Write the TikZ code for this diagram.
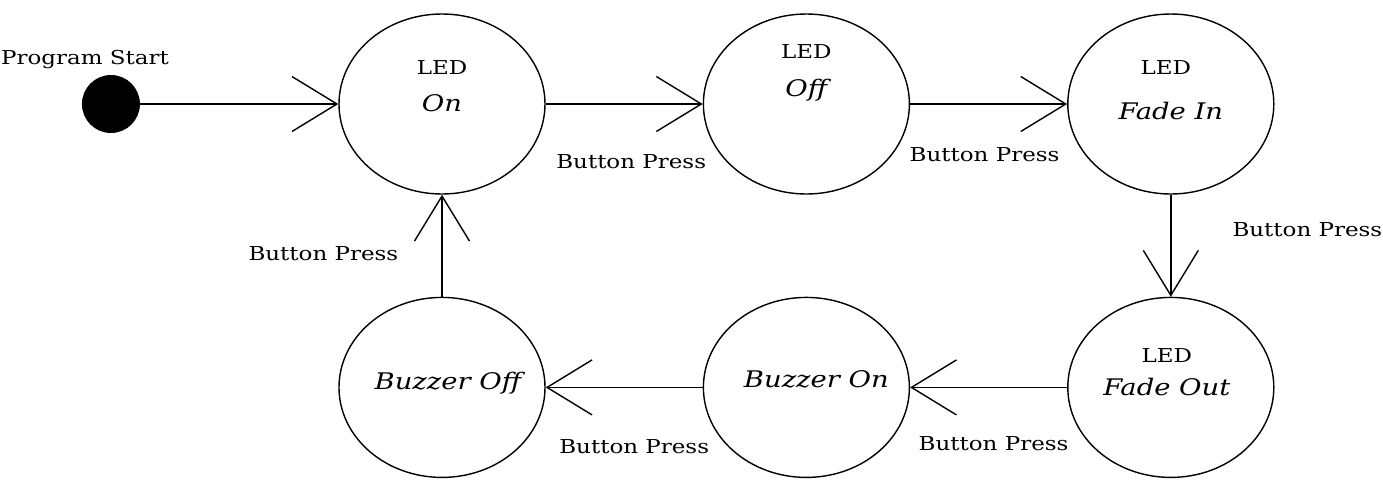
\documentclass[tikz,border=0pt]{standalone}
\usepackage{fontspec}
\setmainfont{DejaVu Serif}[FakeStretch=1.2]
\usepackage{tikz}
\usetikzlibrary{arrows.meta}
\usetikzlibrary{positioning}
\usetikzlibrary{shapes}

\begin{document}
\begin{tikzpicture}
  [
    node distance = 2.04cm and 3.14cm,
    state/.style = {draw, ellipse, line width = 0.8pt,
                   minimum width = 4.12cm, minimum height = 3.6cm, inner sep = 0pt},
    start/.style = {circle, fill = black, minimum size = 1.16cm, inner sep = 0pt},
    lbl/.style = {inner sep = 0pt, font = \fontsize{10.9}{13}\selectfont},
    statename/.style = {inner sep = 0pt, font = \fontsize{13}{15}\selectfont\itshape},
    arrow/.style = {-{Straight Barb[length = 9mm, width = 11mm]}, line width = 0.8pt},
  ]
  \useasboundingbox (-8.84,-7.58) rectangle (18.82,2.08);

  \node[state] (on) at (0,0) {};
  \node[state] [right = of on] (off) {};
  \node[state] [right = of off] (fadein) {};
  \node[state] [below = of fadein] (fadeout) {};
  \node[state] [left = of fadeout] (buzzon) {};
  \node[state] [left = of buzzon] (buzzoff) {};

  \node[start] [left = 3.96cm of on] (begin) {};
  \node[lbl] [above = 0.12cm of begin, xshift = -0.52cm] (begin_text) {Program Start};

  % state texts
  \node[lbl] at ([yshift = 0.72cm]on.center) (on_led) {LED};
  \node[statename] at ([yshift = 0.02cm]on.center) (on_name) {On};
  \node[lbl] at ([yshift = 1.04cm]off.center) (off_led) {LED};
  \node[statename] at ([yshift = 0.28cm]off.center) (off_name) {Off};
  \node[lbl] at ([xshift = -0.1cm, yshift = 0.72cm]fadein.center) (fadein_led) {LED};
  \node[statename] at ([yshift = -0.14cm]fadein.center) (fadein_name) {Fade In};
  \node[lbl] at ([xshift = -0.08cm, yshift = 0.64cm]fadeout.center) (fadeout_led) {LED};
  \node[statename] at ([xshift = -0.08cm]fadeout.center) (fadeout_name) {Fade Out};
  \node[statename] at ([xshift = 0.2cm, yshift = 0.16cm]buzzon.center) (buzzon_name) {Buzzer On};
  \node[statename] at ([xshift = 0.12cm, yshift = 0.08cm]buzzoff.center) (buzzoff_name) {Buzzer Off};

  % transitions
  \draw[arrow] (begin) -- (on);
  \draw[arrow] (on) -- node[lbl, below = 1.0cm, xshift = 0.14cm] (press_a) {Button Press} (off);
  \draw[arrow] (off) -- node[lbl, below = 0.86cm, xshift = -0.08cm] (press_b) {Button Press} (fadein);
  \draw[arrow] (fadein) -- node[lbl, right = 1.22cm, yshift = 0.32cm] (press_c) {Button Press} (fadeout);
  \draw[arrow] (fadeout) -- node[lbl, below = 0.96cm, xshift = 0.1cm] (press_d) {Button Press} (buzzon);
  \draw[arrow] (buzzon) -- node[lbl, below = 1.02cm, xshift = 0.2cm] (press_e) {Button Press} (buzzoff);
  \draw[arrow] (buzzoff) -- node[lbl, left = 0.86cm, yshift = -0.16cm] (press_f) {Button Press} (on);
\end{tikzpicture}
\end{document}
